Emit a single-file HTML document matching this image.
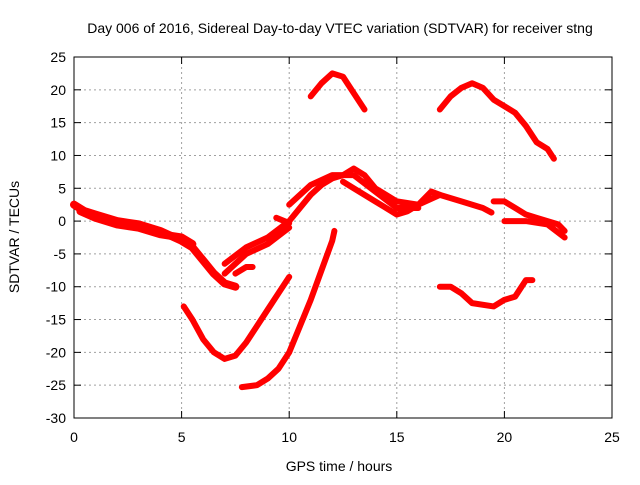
<!DOCTYPE html>
<html><head><meta charset="utf-8"><style>
body{margin:0;background:#fff}
svg text{font-family:"Liberation Sans",sans-serif;font-size:14px;fill:#000}
</style></head><body>
<svg id="c" width="640" height="480" xmlns="http://www.w3.org/2000/svg"></svg>
<script>
const xTicks=[0,5,10,15,20,25];
const yTicks=[25,20,15,10,5,0,-5,-10,-15,-20,-25,-30];
const traceA=[[0,2.5],[0.5,1.5],[1,1],[2,0],[3,-0.5],[4,-1.5],[5,-3],[5.5,-4],[6,-6],[6.5,-8],[7,-9.5],[7.5,-10]];
const traceA2=[[0.3,1.5],[1,0.5],[2,-0.5],[3,-1],[4,-2],[5,-2.5],[5.5,-3.5]];
const traceB=[[7,-6.5],[8,-4],[9,-2.5],[10,0],[10.5,2],[11,4],[11.5,5.5],[12,6.5],[12.5,7],[13,8],[13.5,7],[14,5],[15,3],[16,2.5],[16.6,4.5],[17,4],[18,3],[19,2],[19.4,1.3]];
const traceB2=[[12.5,6],[13,5],[14,3],[15,1],[15.5,1.5],[16,2.5],[17,4]];
const traceB3=[[10,2.5],[11,5.5],[12,7],[13,7],[14,4.5],[15,2],[16,2]];
const traceC=[[7,-8],[7.5,-6.5],[8,-5],[9,-3.5],[10,-1]];
const traceD=[[7.5,-8],[8,-7],[8.3,-7]];
const traceE=[[9.4,0.5],[10,-0.3]];
const traceF=[[19.5,3],[20,3],[20.5,2],[21,1],[21.5,0.5],[22,0],[22.5,-0.5],[22.8,-1.5]];
const traceF2=[[20,0],[21,0],[22,-0.5],[22.8,-2.5]];
const arcLow1=[[5.1,-13],[5.5,-15],[6,-18],[6.5,-20],[7,-21],[7.5,-20.5],[8,-18.5],[8.5,-16],[9,-13.5],[9.5,-11],[10,-8.5]];
const arcLow2=[[7.8,-25.3],[8.5,-25],[9,-24],[9.5,-22.5],[10,-20],[10.5,-16],[11,-12],[11.5,-7.5],[12,-3],[12.1,-1.5]];
const arcTop1=[[11,19],[11.5,21],[12,22.5],[12.5,22],[13,19.5],[13.5,17]];
const arcTop2=[[17,17],[17.5,19],[18,20.3],[18.5,21],[19,20.3],[19.5,18.5],[20,17.5],[20.5,16.5],[21,14.5],[21.5,12],[22,11],[22.3,9.5]];
const arcBR=[[17,-10],[17.5,-10],[18,-11],[18.5,-12.5],[19.5,-13],[20,-12],[20.5,-11.5],[21,-9],[21.3,-9]];
const series=[traceA,traceA2,traceB,traceB2,traceB3,traceC,traceD,traceE,traceF,traceF2,arcLow1,arcLow2,arcTop1,arcTop2,arcBR];
const widths=[8,8,6,6,6,6,6,6,6,6,6,6,6,6,6];

const L=74,R=612,T=57,B=418;
const X=h=>L+(h-0)/25*(R-L);
const Y=v=>T+(25-v)/55*(B-T);
const svg=document.getElementById('c');
const NS='http://www.w3.org/2000/svg';
function mk(t,a,p){const e=document.createElementNS(NS,t);for(const k in a)e.setAttribute(k,a[k]);(p||svg).appendChild(e);return e;}
let t=mk('text',{x:340,y:33,'text-anchor':'middle'});t.textContent='Day 006 of 2016, Sidereal Day-to-day VTEC variation (SDTVAR) for receiver stng';


yTicks.forEach(v=>{
  const y=Y(v);
  if(v!==25&&v!==-30){const g=mk('line',{x1:L,x2:R,y1:y,y2:y,stroke:'#a0a0a0','stroke-dasharray':'2,3'});
  
  }
  mk('line',{x1:L,x2:L+7,y1:y,y2:y,stroke:'#000'});mk('line',{x1:R,x2:R-7,y1:y,y2:y,stroke:'#000'});
  const l=mk('text',{x:L-8,y:y+5,'text-anchor':'end'});l.textContent=v;
  
  
});
xTicks.forEach(h=>{
  const x=X(h);
  if(h!==0&&h!==25){const g=mk('line',{x1:x,x2:x,y1:T,y2:B,stroke:'#a0a0a0','stroke-dasharray':'2,3'});
  
  }
  mk('line',{x1:x,x2:x,y1:B,y2:B-7,stroke:'#000'});mk('line',{x1:x,x2:x,y1:T,y2:T+7,stroke:'#000'});
  const l=mk('text',{x:x,y:B+24,'text-anchor':'middle'});l.textContent=h;
  
  
});
const fr=mk('rect',{x:L,y:T,width:R-L,height:B-T,fill:'none',stroke:'#000'});


series.forEach((s,i)=>{
  const p=mk('polyline',{points:s.map(d=>X(d[0])+','+Y(d[1])).join(' '),fill:'none',stroke:'#ff0000','stroke-width':widths[i],'stroke-linejoin':'round','stroke-linecap':'round'});
  
  
});
t=mk('text',{x:339,y:471,'text-anchor':'middle'});t.textContent='GPS time / hours';


t=mk('text',{x:19,y:237,'text-anchor':'middle',transform:'rotate(-90 19 237)'});t.textContent='SDTVAR / TECUs';


</script>
</body></html>
